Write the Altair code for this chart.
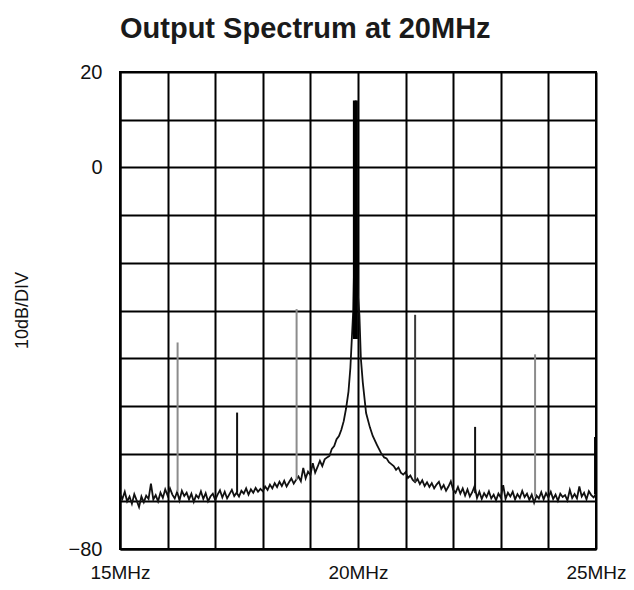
import altair as alt
import pandas as pd

# ---------------- data ----------------
FLOOR_STEP = 0.05
FLOOR_LEFT_START = 15.00
floor_left_db = [
    -68.5, -69.5, -68.0, -70.0, -69.0, -70.5, -68.5, -69.8, -71.2, -69.0,
    -70.2, -68.8, -69.5, -66.3, -69.6, -68.7, -70.0, -68.2, -69.3, -67.5,
    -68.8, -67.3, -68.6, -69.4, -68.0, -69.8, -67.8, -68.9, -68.2, -69.6,
    -68.4, -70.1, -68.7, -69.3, -67.9, -69.5, -68.3, -70.0, -69.0, -68.4,
    -69.7, -68.6, -67.7, -69.2, -68.0, -69.4, -68.5, -67.6, -68.9, -68.2,
    -69.0, -67.8, -68.4, -67.3, -68.6, -67.5, -68.2, -67.2, -68.0, -67.4,
    -67.9, -66.9, -67.6, -66.5, -67.3, -66.2, -67.0, -65.9, -66.8, -65.7,
    -66.9, -66.0, -65.2, -66.3, -65.5, -64.8, -65.8, -63.0, -65.2, -63.8,
    -64.5, -62.0, -64.0, -62.8, -61.5, -62.6, -61.2, -60.8,
]

skirt_mhz = [19.40, 19.45, 19.50, 19.55, 19.60, 19.65, 19.70, 19.75, 19.80,
             19.84, 19.87, 19.90, 19.92, 19.94, 19.95, 19.96, 19.98, 20.00,
             20.03, 20.06, 20.10, 20.17, 20.25, 20.31, 20.40, 20.48, 20.55]
skirt_db = [-60.5, -59.0, -58.4, -57.0, -56.3, -55.0, -53.2, -50.5, -47.0,
            -42.0, -36.0, -30.0, -20.0, -5.0, 14.0, -5.0, -20.0, -27.0,
            -31.0, -40.0, -45.0, -51.5, -54.5, -56.3, -58.2, -59.8, -60.8]

FLOOR_RIGHT_START = 20.60
floor_right_db = [
    -61.0, -61.8, -62.2, -62.6, -63.4, -62.9, -64.0, -64.4, -63.9, -65.1,
    -64.6, -65.5, -66.0, -65.3, -66.4, -65.6, -66.8, -66.0, -67.0, -66.2,
    -67.3, -66.5, -65.9, -67.4, -66.6, -67.8, -66.9, -65.8, -67.6, -68.2,
    -67.0, -68.4, -67.3, -68.8, -67.5, -69.0, -68.1, -66.8, -69.3, -68.0,
    -69.5, -68.3, -69.1, -67.9, -69.4, -68.6, -69.8, -68.4, -69.2, -66.6,
    -69.5, -68.2, -69.0, -68.0, -69.6, -68.5, -69.3, -67.8, -69.1, -68.4,
    -69.7, -68.6, -70.3, -68.8, -69.4, -68.1, -69.6, -68.3, -69.2, -68.0,
    -69.5, -68.6, -69.9, -68.4, -69.1, -68.7, -69.8, -67.6, -69.3, -68.5,
    -69.4, -66.9, -69.0, -68.2, -69.6, -67.9, -68.7, -69.2, -68.5,
]

spur_mhz = [16.21, 17.46, 18.71, 21.20, 22.46, 23.72, 24.98]
spur_top_db = [-36.7, -51.4, -29.7, -30.9, -54.4, -39.2, -56.5]
spur_base_db = [-68.0, -68.2, -65.5, -66.0, -68.3, -69.0, -68.5]
spur_kind = ["faint", "solid", "faint", "mid", "solid", "faint", "edge"]

carrier_mhz = [19.945]
carrier_top_db = [14.0]
carrier_base_db = [-36.0]

y_ticks = [-80, -70, -60, -50, -40, -30, -20, -10, 0, 10, 20]
x_ticks = [15, 16, 17, 18, 19, 20, 21, 22, 23, 24, 25]

# ---------------- tables ----------------
trace_f = ([round(FLOOR_LEFT_START + i * FLOOR_STEP, 3) for i in range(len(floor_left_db))]
           + skirt_mhz
           + [round(FLOOR_RIGHT_START + i * FLOOR_STEP, 3) for i in range(len(floor_right_db))])
trace_db = floor_left_db + skirt_db + floor_right_db
trace = pd.DataFrame({"f": trace_f, "db": trace_db, "i": range(len(trace_f))})
spurs = pd.DataFrame({"f": spur_mhz, "top": spur_top_db, "base": spur_base_db, "kind": spur_kind})
carrier = pd.DataFrame({"f": carrier_mhz, "top": carrier_top_db, "base": carrier_base_db})

LABEL_FONT = "Liberation Sans"

x_scale = alt.Scale(domain=[15, 25], nice=False, zero=False)
y_scale = alt.Scale(domain=[-80, 20], nice=False, zero=False)

x_axis = alt.Axis(
    values=x_ticks,
    labelExpr="datum.value == 15 ? '15MHz' : datum.value == 20 ? '20MHz' : datum.value == 25 ? '25MHz' : ''",
    title=None, grid=True, ticks=False, labelPadding=14,
    labelFont=LABEL_FONT, labelFontSize=19, labelColor="#111",
    labelOverlap=False, labelFlush=False,
    gridColor="#000", gridWidth=2, gridOpacity=1,
    domainColor="#000", domainWidth=2,
)
y_axis = alt.Axis(
    values=y_ticks,
    labelExpr="datum.value == 20 ? '20' : datum.value == 0 ? '0' : datum.value == -80 ? '\u221280' : ''",
    title="10dB/DIV", grid=True, ticks=False, labelPadding=18,
    labelFont=LABEL_FONT, labelFontSize=20, labelColor="#111",
    labelOverlap=False, labelFlush=False,
    titleFont=LABEL_FONT, titleFontSize=18, titleFontWeight="normal", titleColor="#111",
    titleX=-98, titleY=238, titleAngle=-90, titleAlign="center", titleBaseline="middle",
    gridColor="#000", gridWidth=2, gridOpacity=1,
    domainColor="#000", domainWidth=2,
)

line = alt.Chart(trace).mark_line(color="#111", strokeWidth=1.8, clip=True).encode(
    x=alt.X("f:Q", scale=x_scale, axis=x_axis),
    y=alt.Y("db:Q", scale=y_scale, axis=y_axis),
    order="i:Q",
)

spur_rules = alt.Chart(spurs).mark_rule(clip=True).encode(
    x=alt.X("f:Q", scale=x_scale),
    y=alt.Y("top:Q", scale=y_scale),
    y2="base:Q",
    color=alt.Color("kind:N", scale=alt.Scale(domain=["faint", "mid", "solid", "edge"],
                                              range=["#8c8c8c", "#3a3a3a", "#111111", "#000000"]),
                    legend=None),
    strokeWidth=alt.StrokeWidth("kind:N", scale=alt.Scale(domain=["faint", "mid", "solid", "edge"],
                                                           range=[2, 2, 1.5, 3]),
                                legend=None),
)

carrier_rule = alt.Chart(carrier).mark_rule(color="#000", strokeWidth=5, clip=True).encode(
    x=alt.X("f:Q", scale=x_scale),
    y=alt.Y("top:Q", scale=y_scale),
    y2="base:Q",
)

chart = alt.layer(line, spur_rules, carrier_rule).properties(
    width=476,
    height=477,
    background="white",
    title=alt.TitleParams(
        "Output Spectrum at 20MHz",
        anchor="start",
        frame="group",
        font="Liberation Sans",
        fontSize=29,
        fontWeight="bold",
        color="#1a1a1a",
        offset=18,
    ),
    autosize=alt.AutoSizeParams(type="none"),
    padding={"left": 112, "top": 64, "right": 30, "bottom": 32},
).configure_axis(
    gridColor="#000", gridWidth=2, gridOpacity=1,
    domainColor="#000", domainWidth=2,
).configure_view(
    stroke="#000", strokeWidth=2,
)

chart.save("out.html", embed_options={"renderer": "svg", "actions": False})
